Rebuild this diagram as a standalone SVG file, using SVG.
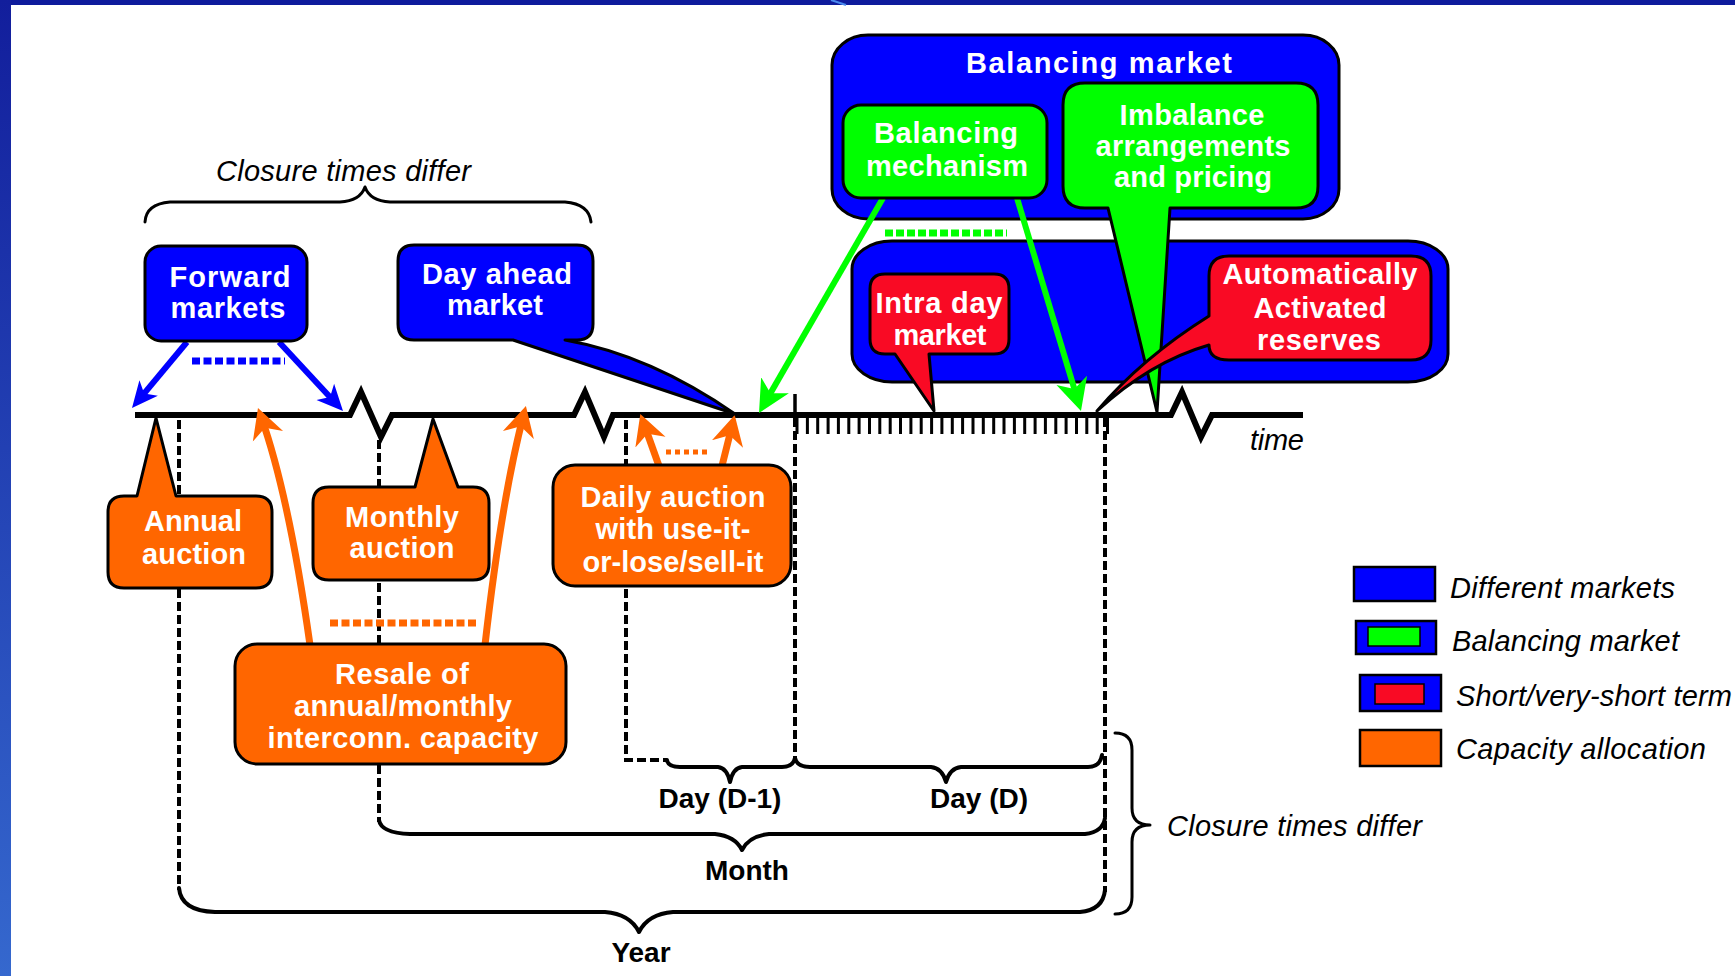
<svg xmlns="http://www.w3.org/2000/svg" width="1735" height="976" viewBox="0 0 1735 976">
<style>
.bt{font-family:"Liberation Sans",Arial,sans-serif;font-weight:bold;font-size:29px;fill:#fff;text-anchor:middle}
.kt{font-family:"Liberation Sans",Arial,sans-serif;font-weight:bold;font-size:28px;fill:#000;text-anchor:middle}
.it{font-family:"Liberation Sans",Arial,sans-serif;font-style:italic;font-size:29px;fill:#000}
.box{stroke:#000;stroke-width:3;stroke-linejoin:round}
.blue{fill:#0000FF}.green{fill:#00FF00}.red{fill:#F90A24}.orange{fill:#FF6600}
.dash{fill:none;stroke:#000;stroke-width:4;stroke-dasharray:9 4}
.solid{fill:none;stroke:#000;stroke-width:4;stroke-linejoin:round;stroke-linecap:round}
.brace{fill:none;stroke:#000;stroke-width:3;stroke-linejoin:round;stroke-linecap:round}
.arB{fill:none;stroke:#0000FF;stroke-width:6}
.arG{fill:none;stroke:#00FF00;stroke-width:6}
.arO{fill:none;stroke:#FF6600;stroke-width:7}
</style>
<defs>
<linearGradient id="side" x1="0" y1="0" x2="0" y2="1"><stop offset="0" stop-color="#121E9C"/><stop offset="1" stop-color="#3568CE"/></linearGradient>
<marker id="ahB" viewBox="0 -13 26 26" markerWidth="26" markerHeight="26" refX="16" refY="0" orient="auto" markerUnits="userSpaceOnUse"><path d="M0,-12 L26,0 L0,12 L7,0 Z" fill="#0000FF"/></marker>
<marker id="ahO" viewBox="0 -17 30 34" markerWidth="30" markerHeight="34" refX="20" refY="0" orient="auto" markerUnits="userSpaceOnUse"><path d="M0,-16 L30,0 L0,16 L9,0 Z" fill="#FF6600"/></marker>
<marker id="ahG" viewBox="0 -17 32 34" markerWidth="32" markerHeight="34" refX="22" refY="0" orient="auto" markerUnits="userSpaceOnUse"><path d="M0,-16 L32,0 L0,16 L9,0 Z" fill="#00FF00"/></marker>
</defs>

<rect x="0" y="0" width="1735" height="976" fill="#fff"/>
<rect x="0" y="0" width="1735" height="5" fill="#0E1B9C"/>
<line x1="831" y1="0" x2="846" y2="5" stroke="#4A8AF0" stroke-width="2"/>
<rect x="0" y="0" width="11" height="976" fill="url(#side)"/>

<g id="balancing-market">
  <rect class="box blue" x="832" y="35" width="507" height="184" rx="36" ry="30"/>
  <text class="bt" x="1099" y="73" textLength="266">Balancing market</text>
</g>
<g id="short-term-market">
  <rect class="box blue" x="852" y="241" width="596" height="141" rx="40" ry="28"/>
</g>

<g id="connectors">
  <path d="M135 415 H350 L361 392 L381 437 L392 415 H574 L585 392 L604 437 L613 415 H1171 L1182 392 L1201 437 L1212 415 H1303" fill="none" stroke="#000" stroke-width="6" stroke-linejoin="miter"/>
  <line x1="795" y1="394" x2="795" y2="416" stroke="#000" stroke-width="3.5"/>
  <path d="M797 415V434M807.4 415V434M817.7 415V434M828.1 415V434M838.4 415V434M848.8 415V434M859.1 415V434M869.5 415V434M879.8 415V434M890.2 415V434M900.5 415V434M910.9 415V434M921.2 415V434M931.6 415V434M941.9 415V434M952.3 415V434M962.6 415V434M973 415V434M983.3 415V434M993.7 415V434M1004 415V434M1014.4 415V434M1024.7 415V434M1035.1 415V434M1045.4 415V434M1055.8 415V434M1066.1 415V434M1076.5 415V434M1086.8 415V434M1097.2 415V434M1107.5 415V434" stroke="#000" stroke-width="3"/>
  <path class="dash" d="M179 420 V890"/>
  <path class="dash" d="M379 440 V822"/>
  <path class="dash" d="M626 420 V760 H667"/>
  <path class="dash" d="M795 418 V758"/>
  <path class="dash" d="M1105 418 V892"/>
  <path class="solid" d="M667 760 Q668 767 680 767 H718 Q727 768 730 782 Q733 768 742 767 H782 Q793 767 795 758"/>
  <path class="solid" d="M795 758 Q797 767 810 767 H931 Q942 768 946 782 Q950 768 961 767 H1088 Q1100 767 1102 755"/>
  <path class="solid" d="M379 820 Q381 833 410 834 H715 Q735 836 742 850 Q749 836 769 834 H1085 Q1103 832 1105 818"/>
  <path class="solid" d="M179 888 Q181 911 215 912 H605 Q630 914 639 932 Q648 914 673 912 H1080 Q1103 910 1105 890"/>
  <path class="brace" d="M145 222 Q146 204 170 202 H340 Q360 201 365 187 Q370 201 390 202 H565 Q589 204 591 222"/>
  <path class="brace" d="M1115 733 Q1132 733 1132 750 V808 Q1132 825 1150 825 Q1132 825 1132 842 V897 Q1132 914 1115 914"/>
  <line class="arB" x1="187" y1="342" x2="138.4" y2="400.3" marker-end="url(#ahB)"/>
  <line class="arB" x1="279" y1="342" x2="336.2" y2="403.7" marker-end="url(#ahB)"/>
  <line x1="192" y1="361" x2="285" y2="361" stroke="#0000FF" stroke-width="7" stroke-dasharray="8 3.5"/>
  <path class="arO" d="M310 645 Q289 496 261.3 417.4" marker-end="url(#ahO)"/>
  <path class="arO" d="M485 645 Q501.5 500 523.4 415.7" marker-end="url(#ahO)"/>
  <line x1="330" y1="623" x2="476" y2="623" stroke="#FF6600" stroke-width="7" stroke-dasharray="8 3.5"/>
  <line class="arO" x1="659" y1="466" x2="643.7" y2="423.3" stroke-width="6" marker-end="url(#ahO)"/>
  <line class="arO" x1="722" y1="466" x2="732.3" y2="424.6" stroke-width="6" marker-end="url(#ahO)"/>
  <line x1="666" y1="452" x2="710" y2="452" stroke="#FF6600" stroke-width="5" stroke-dasharray="5 4"/>
  <line class="arG" x1="883" y1="198" x2="764" y2="404.4" marker-end="url(#ahG)"/>
  <line class="arG" x1="1017" y1="198" x2="1078.1" y2="401.4" marker-end="url(#ahG)"/>
  <line x1="885" y1="233" x2="1007" y2="233" stroke="#00FF00" stroke-width="7" stroke-dasharray="8 3"/>
</g>

<g id="forward-markets">
  <rect class="box blue" x="145" y="246" width="162" height="95" rx="16"/>
  <text class="bt" x="230" y="287" textLength="121">Forward</text>
  <text class="bt" x="228" y="318" textLength="115">markets</text>
</g>
<g id="day-ahead-market">
  <path class="box blue" d="M414 245 H577 Q593 245 593 261 V324 Q593 340 577 340 H565 Q650 355 735 414 L513 340 H414 Q398 340 398 324 V261 Q398 245 414 245 Z"/>
  <text class="bt" x="497" y="284" textLength="150">Day ahead</text>
  <text class="bt" x="495" y="315" textLength="96">market</text>
</g>
<g id="balancing-mechanism">
  <rect class="box green" x="843" y="105" width="204" height="93" rx="18"/>
  <text class="bt" x="946" y="143" textLength="144">Balancing</text>
  <text class="bt" x="947" y="176" textLength="162">mechanism</text>
</g>
<g id="imbalance-arrangements">
  <path class="box green" d="M1085 83 H1296 Q1318 83 1318 105 V186 Q1318 208 1296 208 H1170 L1157 412 L1108 208 H1085 Q1063 208 1063 186 V105 Q1063 83 1085 83 Z"/>
  <text class="bt" x="1192" y="125" textLength="145">Imbalance</text>
  <text class="bt" x="1193" y="156" textLength="195">arrangements</text>
  <text class="bt" x="1193" y="187" textLength="158">and pricing</text>
</g>
<g id="intra-day-market">
  <path class="box red" d="M885 274 H994 Q1009 274 1009 289 V339 Q1009 354 994 354 H929 L934 411 L895 354 H885 Q870 354 870 339 V289 Q870 274 885 274 Z"/>
  <text class="bt" x="939" y="313" textLength="127">Intra day</text>
  <text class="bt" x="940" y="345" textLength="93">market</text>
</g>
<g id="automatically-activated-reserves">
  <path class="box red" d="M1229 256 H1411 Q1431 256 1431 276 V340 Q1431 360 1411 360 H1229 Q1209 360 1209 345 Q1150 362 1097 411 Q1142 358 1209 316 V276 Q1209 256 1229 256 Z"/>
  <text class="bt" x="1320" y="284" textLength="195">Automatically</text>
  <text class="bt" x="1320" y="318" textLength="133">Activated</text>
  <text class="bt" x="1319" y="350" textLength="124">reserves</text>
</g>
<g id="annual-auction">
  <path class="box orange" d="M124 496 H137 L156 418 L176 496 H256 Q272 496 272 512 V572 Q272 588 256 588 H124 Q108 588 108 572 V512 Q108 496 124 496 Z"/>
  <text class="bt" x="193" y="531" textLength="98">Annual</text>
  <text class="bt" x="194" y="564" textLength="104">auction</text>
</g>
<g id="monthly-auction">
  <path class="box orange" d="M329 487 H415 L433 419 L458 487 H473 Q489 487 489 503 V564 Q489 580 473 580 H329 Q313 580 313 564 V503 Q313 487 329 487 Z"/>
  <text class="bt" x="402" y="527" textLength="114">Monthly</text>
  <text class="bt" x="402" y="558" textLength="105">auction</text>
</g>
<g id="resale">
  <rect class="box orange" x="235" y="644" width="331" height="120" rx="22"/>
  <text class="bt" x="402" y="684" textLength="134">Resale of</text>
  <text class="bt" x="403" y="716" textLength="218">annual/monthly</text>
  <text class="bt" x="403" y="748" textLength="271">interconn. capacity</text>
</g>
<g id="daily-auction">
  <rect class="box orange" x="553" y="465" width="238" height="121" rx="22"/>
  <text class="bt" x="673" y="507" textLength="185">Daily auction</text>
  <text class="bt" x="673" y="539" textLength="155">with use-it-</text>
  <text class="bt" x="673" y="572" textLength="181">or-lose/sell-it</text>
</g>

<g id="labels">
  <text class="it" x="216" y="181" textLength="255" font-size="31">Closure times differ</text>
  <text class="it" x="1167" y="836" textLength="255">Closure times differ</text>
  <text class="it" x="1250" y="450" textLength="54">time</text>
  <text class="kt" x="720" y="808">Day (D-1)</text>
  <text class="kt" x="979" y="808">Day (D)</text>
  <text class="kt" x="747" y="880">Month</text>
  <text class="kt" x="641" y="962">Year</text>
</g>

<g id="legend">
  <rect class="blue" x="1354" y="567" width="81" height="34" stroke="#000" stroke-width="2.5"/>
  <text class="it" x="1450" y="598" textLength="225">Different markets</text>
  <rect class="blue" x="1356" y="621" width="80" height="33" stroke="#000" stroke-width="2.5"/>
  <rect class="green" x="1368" y="627" width="52" height="19" stroke="#000" stroke-width="1.5"/>
  <text class="it" x="1452" y="651" textLength="227">Balancing market</text>
  <rect class="blue" x="1360" y="675" width="81" height="36" stroke="#000" stroke-width="2.5"/>
  <rect class="red" x="1375" y="684" width="49" height="20" stroke="#000" stroke-width="1.5"/>
  <text class="it" x="1456" y="706" textLength="276">Short/very-short term</text>
  <rect class="orange" x="1360" y="730" width="81" height="36" stroke="#000" stroke-width="2.5"/>
  <text class="it" x="1456" y="759" textLength="250">Capacity allocation</text>
</g>
</svg>
